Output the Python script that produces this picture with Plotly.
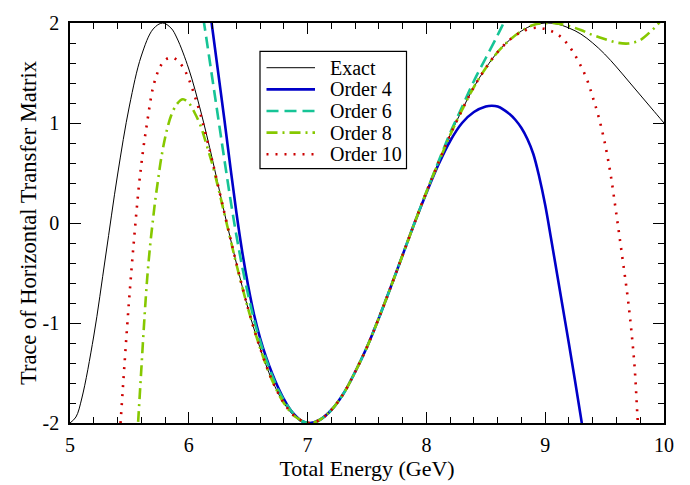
import plotly.graph_objects as go

# ---------------- data ----------------
exact_E = [5.00, 5.05, 5.10, 5.20, 5.30, 5.40, 5.50, 5.60, 5.70, 5.78, 5.85, 5.90,
           6.00, 6.10, 6.20, 6.30, 6.40, 6.50, 6.60, 6.70, 6.80, 6.90, 7.02, 7.10,
           7.20, 7.30, 7.40, 7.50, 7.60, 7.70, 7.80, 7.90, 8.00, 8.10, 8.20, 8.30,
           8.40, 8.50, 8.60, 8.70, 8.80, 8.90, 9.02, 9.10, 9.20, 9.30, 9.40, 9.50,
           9.60, 9.70, 9.80, 9.90, 10.00]
exact_T = [-2.00, -1.94, -1.75, -1.13, -0.33, 0.48, 1.17, 1.67, 1.94, 2.00, 1.95, 1.85,
           1.54, 1.12, 0.63, 0.10, -0.40, -0.86, -1.25, -1.57, -1.80, -1.94, -2.00, -1.97,
           -1.87, -1.71, -1.49, -1.24, -0.95, -0.64, -0.32, 0.00, 0.31, 0.60, 0.88, 1.13,
           1.36, 1.55, 1.71, 1.83, 1.92, 1.98, 2.00, 1.99, 1.95, 1.89, 1.80, 1.69,
           1.56, 1.42, 1.28, 1.14, 1.00]

o4_E = [6.15, 6.20, 6.25, 6.30, 6.35, 6.40, 6.45, 6.50, 6.55, 6.60, 6.65, 6.70,
        6.75, 6.80, 6.85, 6.90, 6.95, 7.02, 7.10, 7.20, 7.30, 7.40, 7.50, 7.60,
        7.70, 7.80, 7.90, 8.00, 8.10, 8.20, 8.30, 8.40, 8.50, 8.55, 8.60, 8.70,
        8.75, 8.80, 8.85, 8.90, 8.95, 9.00, 9.05, 9.10, 9.15, 9.20, 9.25, 9.30, 9.35]
o4_T = [2.38, 1.93, 1.48, 1.03, 0.56, 0.11, -0.29, -0.63, -0.92, -1.15, -1.34, -1.50,
        -1.64, -1.76, -1.86, -1.93, -1.98, -2.00, -1.97, -1.87, -1.71, -1.49, -1.24, -0.95,
        -0.64, -0.32, 0.00, 0.30, 0.58, 0.82, 1.00, 1.11, 1.165, 1.173, 1.165, 1.09,
        1.03, 0.95, 0.84, 0.69, 0.46, 0.18, -0.16, -0.51, -0.86, -1.21, -1.57, -1.94, -2.32]

o6_E = [6.10, 6.15, 6.20, 6.25, 6.30, 6.35, 6.40, 6.45, 6.50, 6.55, 6.60, 6.65,
        6.70, 6.75, 6.80, 6.85, 6.90, 6.95, 7.02, 7.10, 7.20, 7.30, 7.40, 7.50,
        7.60, 7.70, 7.80, 7.90, 8.00, 8.10, 8.20, 8.30, 8.40, 8.50, 8.60, 8.65,
        8.70, 8.75]
o6_T = [2.22, 1.83, 1.43, 1.03, 0.63, 0.24, -0.12, -0.44, -0.72, -0.97, -1.18, -1.36,
        -1.52, -1.66, -1.77, -1.86, -1.93, -1.98, -2.00, -1.97, -1.87, -1.71, -1.49, -1.24,
        -0.95, -0.64, -0.32, 0.00, 0.31, 0.61, 0.90, 1.16, 1.42, 1.65, 1.88, 2.00,
        2.12, 2.25]

o8_E = [5.55, 5.575, 5.60, 5.625, 5.65, 5.675, 5.70, 5.72, 5.74, 5.76, 5.78, 5.80,
        5.82, 5.85, 5.90, 5.95, 6.00, 6.05, 6.10, 6.15, 6.20, 6.25, 6.30, 6.35,
        6.40, 6.50, 6.60, 6.70, 6.80, 6.90, 7.02, 7.10, 7.20, 7.30, 7.40, 7.50,
        7.60, 7.70, 7.80, 7.90, 8.00, 8.10, 8.20, 8.30, 8.40, 8.50, 8.60, 8.70,
        8.80, 8.90, 9.02, 9.10, 9.20, 9.30, 9.40, 9.50, 9.60, 9.70, 9.80, 9.90,
        9.95, 10.00]
o8_T = [-2.45, -1.96, -1.47, -0.98, -0.55, -0.22, 0.05, 0.25, 0.42, 0.59, 0.73, 0.85,
        0.95, 1.07, 1.19, 1.237, 1.20, 1.10, 0.97, 0.78, 0.58, 0.34, 0.09, -0.16,
        -0.41, -0.86, -1.25, -1.57, -1.80, -1.94, -2.00, -1.97, -1.87, -1.71, -1.49, -1.24,
        -0.95, -0.64, -0.32, 0.00, 0.31, 0.60, 0.88, 1.13, 1.36, 1.55, 1.71, 1.83,
        1.92, 1.98, 2.00, 1.995, 1.97, 1.93, 1.88, 1.84, 1.805, 1.795, 1.83, 1.93,
        1.99, 2.07]

o10_E = [5.40, 5.42, 5.44, 5.46, 5.48, 5.50, 5.52, 5.54, 5.56, 5.58, 5.60, 5.62,
         5.65, 5.70, 5.75, 5.80, 5.856, 5.90, 5.95, 6.00, 6.05, 6.10, 6.15, 6.20,
         6.30, 6.40, 6.50, 6.60, 6.70, 6.80, 6.90, 7.02, 7.10, 7.20, 7.30, 7.40,
         7.50, 7.60, 7.70, 7.80, 7.90, 8.00, 8.10, 8.20, 8.30, 8.40, 8.50, 8.60,
         8.70, 8.80, 8.90, 8.95, 9.00, 9.05, 9.10, 9.15, 9.20, 9.25, 9.30, 9.35,
         9.40, 9.45, 9.50, 9.55, 9.60, 9.65, 9.70, 9.75, 9.775, 9.80]
o10_T = [-2.45, -2.10, -1.74, -1.39, -1.05, -0.73, -0.43, -0.15, 0.12, 0.37, 0.58, 0.77,
         1.01, 1.36, 1.54, 1.63, 1.655, 1.63, 1.56, 1.44, 1.27, 1.08, 0.85, 0.61,
         0.10, -0.40, -0.86, -1.25, -1.57, -1.80, -1.94, -2.00, -1.97, -1.87, -1.71, -1.49,
         -1.24, -0.95, -0.64, -0.32, 0.00, 0.31, 0.60, 0.88, 1.13, 1.36, 1.55, 1.71,
         1.83, 1.91, 1.95, 1.95, 1.94, 1.92, 1.89, 1.84, 1.77, 1.68, 1.57, 1.44,
         1.26, 1.06, 0.81, 0.49, 0.08, -0.35, -0.80, -1.40, -1.90, -2.40]

x_tick_vals = [5, 6, 7, 8, 9, 10]
x_tick_text = ["5", "6", "7", "8", "9", "10"]
y_tick_vals = [-2, -1, 0, 1, 2]
y_tick_text = ["-2", "-1", "0", "1", "2"]

series_names = ["Exact", "Order 4", "Order 6", "Order 8", "Order 10"]

# ---------------- styling ----------------
FONT = "Liberation Serif, Times New Roman, serif"
W, H = 690, 485
ML, MR, MT, MB = 70, 26, 12, 57
PW, PH = W - ML - MR, H - MT - MB

styles = [
    dict(color="#000000", width=1.0),
    dict(color="#0000c8", width=2.6),
    dict(color="#16c496", width=2.6, dash="12px,6px"),
    dict(color="#86c800", width=2.6, dash="11px,5px,2px,5px"),
    dict(color="#cc0000", width=2.6, dash="2px,7px"),
]
data = [(exact_E, exact_T), (o4_E, o4_T), (o6_E, o6_T), (o8_E, o8_T), (o10_E, o10_T)]

fig = go.Figure()
for name, (xs, ys), st in zip(series_names, data, styles):
    fig.add_trace(go.Scatter(x=xs, y=ys, mode="lines", name=name, showlegend=False,
                             line=dict(shape="spline", smoothing=1.0, **st)))


def px_x(p):
    return (p - ML) / PW


def px_y(p):
    return (H - MB - p) / PH


# legend box drawn in paper space (pixel positions of the reference key)
shapes = [dict(type="rect", xref="paper", yref="paper",
               x0=px_x(260), x1=px_x(406.5), y0=px_y(163.5), y1=px_y(41.5),
               line=dict(color="black", width=1.2), fillcolor="white", layer="above")]
annotations = []
row_y = [58.5, 81, 103.5, 126, 148.5]
for name, st, ry in zip(series_names, styles, row_y):
    shapes.append(dict(type="line", xref="paper", yref="paper",
                       x0=px_x(266.5), x1=px_x(315), y0=px_y(ry), y1=px_y(ry),
                       line=st, layer="above"))
    annotations.append(dict(xref="paper", yref="paper", x=px_x(327.5), y=px_y(ry),
                            xanchor="left", yanchor="middle", showarrow=False,
                            text=name, font=dict(family=FONT, size=20, color="black")))

axis_common = dict(
    showline=True, linecolor="black", linewidth=1.5, mirror="allticks",
    ticks="inside", ticklen=11, tickwidth=1.3, tickcolor="black",
    showgrid=False, zeroline=False,
    tickfont=dict(family=FONT, size=20, color="black"),
)

fig.update_layout(
    width=W, height=H,
    margin=dict(l=ML, r=MR, t=MT, b=MB),
    paper_bgcolor="white", plot_bgcolor="white",
    font=dict(family=FONT, color="black"),
    showlegend=False,
    shapes=shapes, annotations=annotations,
    xaxis=dict(range=[5, 10], tickmode="array", tickvals=x_tick_vals, ticktext=x_tick_text,
               ticklabelstandoff=3,
               title=dict(text="Total Energy (GeV)", font=dict(family=FONT, size=22), standoff=2),
               **axis_common),
    yaxis=dict(range=[-2, 2], tickmode="array", tickvals=y_tick_vals, ticktext=y_tick_text,
               ticklabelstandoff=5,
               title=dict(text="Trace of Horizontal Transfer Matrix", font=dict(family=FONT, size=22.5), standoff=0),
               **axis_common),
)
fig.update_xaxes(minor=dict(ticks="inside", ticklen=6, tickwidth=1.1, tickcolor="black",
                            showgrid=False, tickmode="linear", tick0=5, dtick=0.2))
fig.update_yaxes(minor=dict(ticks="inside", ticklen=6, tickwidth=1.1, tickcolor="black",
                            showgrid=False, tickmode="linear", tick0=-2, dtick=0.2))

fig.write_html("out.html")
